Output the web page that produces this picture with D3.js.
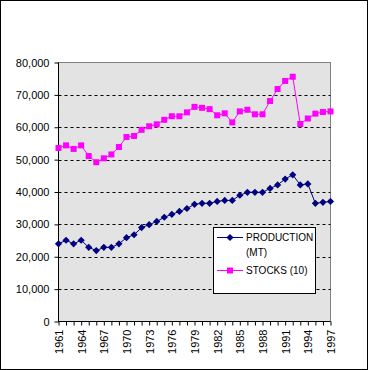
<!DOCTYPE html>
<html><head><meta charset="utf-8">
<script src="https://cdn.jsdelivr.net/npm/d3@7"></script>
<style>body{margin:0;background:#fff}svg{display:block}</style>
</head><body><svg id="c" width="368" height="370"></svg>
<script>
const years = d3.range(1961, 1998);
const production = [24000,25100,24000,25100,22900,21900,22900,22900,24000,25900,26800,29000,29900,30900,32200,33100,34000,34900,36200,36500,36500,37100,37400,37400,39000,39900,39900,39900,41100,42200,44000,45300,42200,42500,36500,36800,37100];
const stocks = [53600,54400,53300,54400,51100,49200,50400,51600,53900,57000,57300,59200,60300,60900,62300,63400,63400,64600,66300,66000,65600,63700,64300,61500,64900,65400,64000,64000,68100,71800,74300,75600,61000,62700,64200,64700,64900];
const yTicks = [0,10000,20000,30000,40000,50000,60000,70000,80000];
const xLabelYears = d3.range(1961, 1998, 3);
const seriesNames = ["PRODUCTION", "(MT)", "STOCKS (10)"];

const svg = d3.select("#c");
const font = "Arial, 'Liberation Sans', sans-serif";
svg.append("rect").attr("x",0.5).attr("y",0.5).attr("width",367).attr("height",369).attr("fill","#fff").attr("stroke","#000");

const L = 58.5, R = 330.5, T = 62.5, B = 321.5;
const x = d3.scaleLinear().domain([1961,1997]).range([L,R]);
const y = d3.scaleLinear().domain([0,80000]).range([B,T]);

svg.append("rect").attr("x",L).attr("y",T).attr("width",R-L).attr("height",B-T).attr("fill","#e3e3e3").attr("stroke","#808080");

// gridlines
svg.append("g").selectAll("line").data(yTicks.filter(d=>d>0&&d<80000)).join("line")
  .attr("x1",L).attr("x2",R).attr("y1",d=>Math.round(y(d))+0.5).attr("y2",d=>Math.round(y(d))+0.5)
  .attr("stroke","#000").attr("stroke-dasharray","3,3");

// y axis
const ya = svg.append("g").attr("transform",`translate(${L},0)`)
  .call(d3.axisLeft(y).tickValues(yTicks).tickSize(4).tickPadding(5).tickFormat(d3.format(",")));
ya.select(".domain").attr("stroke","#000").attr("d",`M0,${T}V${B}`);
ya.selectAll("text").attr("font-family",font).attr("font-size","11px").attr("fill","#000");
ya.selectAll(".tick line").attr("stroke","#000");

// x axis
const xa = svg.append("g").attr("transform",`translate(0,${B})`)
  .call(d3.axisBottom(x).tickValues(years).tickSize(4).tickFormat(d=>xLabelYears.includes(d)?String(d):""));
xa.select(".domain").attr("stroke","#000").attr("d",`M${L},0H${R}`);
xa.selectAll(".tick line").attr("stroke","#000");
xa.selectAll("text").attr("font-family",font).attr("font-size","11px").attr("fill","#000")
  .attr("transform","rotate(-90)").attr("text-anchor","end").attr("x",-8).attr("y",0).attr("dy","0.35em");

// lines
const line = d3.line().x((d,i)=>x(years[i])).y(d=>y(d));
svg.append("path").datum(stocks).attr("d",line).attr("fill","none").attr("stroke","#ff00ff").attr("stroke-width",1);
svg.append("path").datum(production).attr("d",line).attr("fill","none").attr("stroke","#000080").attr("stroke-width",1);

// markers
svg.append("g").selectAll("rect").data(stocks).join("rect")
  .attr("x",(d,i)=>x(years[i])-3).attr("y",d=>y(d)-3).attr("width",6).attr("height",6).attr("fill","#ff00ff");
svg.append("g").selectAll("path").data(production).join("path")
  .attr("d",d3.symbol().type(d3.symbolSquare).size(26))
  .attr("transform",(d,i)=>`translate(${x(years[i])},${y(d)}) rotate(45)`)
  .attr("fill","#000080");

// legend
const lg = svg.append("g");
lg.append("rect").attr("x",213.5).attr("y",227.5).attr("width",102).attr("height",66).attr("fill","#fff").attr("stroke","#000");
lg.append("line").attr("x1",217).attr("x2",243).attr("y1",237.5).attr("y2",237.5).attr("stroke","#000080");
lg.append("path").attr("d",d3.symbol().type(d3.symbolSquare).size(26)).attr("transform","translate(230,237.5) rotate(45)").attr("fill","#000080");
lg.append("line").attr("x1",217).attr("x2",243).attr("y1",270.5).attr("y2",270.5).attr("stroke","#ff00ff");
lg.append("rect").attr("x",227).attr("y",267.5).attr("width",6).attr("height",6).attr("fill","#ff00ff");
lg.selectAll("text").data(seriesNames).join("text")
  .attr("x",246).attr("y",(d,i)=>[237.5,252,270.5][i]).attr("dy","0.35em")
  .attr("font-family",font).attr("font-size","10px").attr("fill","#000").text(d=>d);
</script></body></html>
